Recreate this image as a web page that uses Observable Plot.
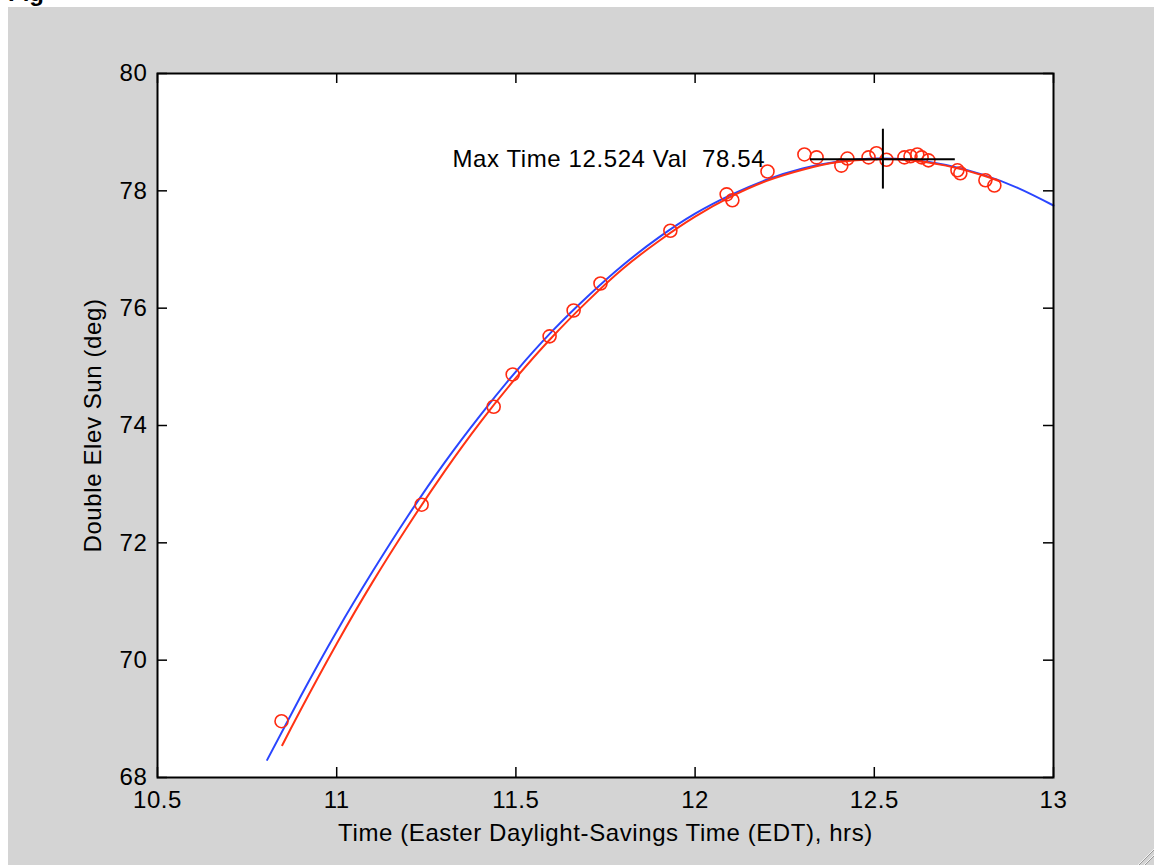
<!DOCTYPE html>
<html>
<head>
<meta charset="utf-8">
<script src="https://cdn.jsdelivr.net/npm/d3@7"></script>
<script src="https://cdn.jsdelivr.net/npm/@observablehq/plot@0.6"></script>
<style>
  html, body { margin: 0; padding: 0; background: #ffffff; width: 1154px; height: 865px; overflow: hidden; }
  #panel { position: absolute; left: 8px; top: 7px; right: 0; bottom: 0; background: #d4d4d4; }
  #head { position: absolute; left: 8px; top: -19px; font: bold 24px "Liberation Sans", Arial, sans-serif; line-height: 1; color: #000; }
  #chart { position: absolute; left: 0; top: 0; }
  #chart svg text { letter-spacing: 0.6px; }
  #grip { position: absolute; right: 0; bottom: 0; }
</style>
</head>
<body>
<div id="head">Fig</div>
<div id="panel"></div>
<div id="chart"></div>
<svg id="grip" width="24" height="24"><path d="M24,8L8,24M24,14L14,24" stroke="#f4f4f4" stroke-width="1"/><path d="M24,9L9,24M24,15L15,24" stroke="#999" stroke-width="1"/></svg>
<script>
// Observed data (red circles)
const obsTime = [10.846, 11.237, 11.438, 11.491, 11.594, 11.661, 11.736, 11.931, 12.088, 12.104,
                 12.202, 12.305, 12.339, 12.408, 12.425, 12.484, 12.506, 12.534, 12.584, 12.601,
                 12.620, 12.632, 12.651, 12.732, 12.740, 12.810, 12.835];
const obsElev = [68.96, 72.65, 74.32, 74.87, 75.52, 75.96, 76.42, 77.32, 77.94, 77.84,
                 78.33, 78.62, 78.57, 78.43, 78.55, 78.57, 78.64, 78.53, 78.57, 78.59,
                 78.62, 78.57, 78.52, 78.35, 78.30, 78.18, 78.09];

// Red fitted curve
const fitTime = [10.848, 10.9, 11.0, 11.1, 11.2, 11.3, 11.4, 11.5, 11.6, 11.7, 11.8, 11.9,
                 12.0, 12.1, 12.2, 12.3, 12.4, 12.5, 12.6, 12.7, 12.8, 12.85];
const fitElev = [68.55, 69.16, 70.28, 71.33, 72.30, 73.21, 74.05, 74.81, 75.50, 76.12, 76.68, 77.15,
                 77.56, 77.90, 78.17, 78.36, 78.49, 78.54, 78.52, 78.43, 78.27, 78.16];

// Blue reference curve
const refTime = [10.806, 10.9, 11.0, 11.1, 11.2, 11.3, 11.4, 11.5, 11.6, 11.7, 11.8, 11.9,
                 12.0, 12.1, 12.2, 12.3, 12.4, 12.5, 12.6, 12.7, 12.8, 12.9, 13.0];
const refElev = [68.30, 69.39, 70.49, 71.51, 72.47, 73.36, 74.17, 74.92, 75.60, 76.20, 76.74, 77.21,
                 77.61, 77.93, 78.19, 78.38, 78.50, 78.55, 78.53, 78.44, 78.28, 78.05, 77.75];

// Maximum marker
const maxTime = 12.524;
const maxVal = 78.54;
const crossHalfT = 0.202;   // half width of horizontal bar (hrs)
const crossHalfV = 0.51;    // half height of vertical bar (deg)
const noteTime = 11.323;    // where the annotation starts

// Axes
const xTicks = [10.5, 11, 11.5, 12, 12.5, 13];
const yTicks = [68, 70, 72, 74, 76, 78, 80];
const xLabel = "Time (Easter Daylight-Savings Time (EDT), hrs)";
const yLabel = "Double Elev Sun (deg)";

const obs = obsTime.map((t, i) => ({t, v: obsElev[i]}));
const fit = fitTime.map((t, i) => ({t, v: fitElev[i]}));
const ref = refTime.map((t, i) => ({t, v: refElev[i]}));

const W = 1154, H = 865, mL = 157, mR = 101, mT = 73, mB = 88;
const fw = W - mL - mR, fh = H - mT - mB, tick = 10;
const font = "'Liberation Sans', Arial, Helvetica, sans-serif";
const fs = 24;

const chart = Plot.plot({
  width: W, height: H,
  marginLeft: mL, marginRight: mR, marginTop: mT, marginBottom: mB,
  style: {background: "transparent", fontFamily: font, fontSize: fs + "px", color: "#000", overflow: "visible"},
  x: {domain: [10.5, 13]},
  y: {domain: [68, 80]},
  marks: [
    Plot.frame({fill: "white", stroke: "none"}),
    Plot.line(ref, {x: "t", y: "v", stroke: "#2a45ff", strokeWidth: 2, curve: "natural"}),
    Plot.line(fit, {x: "t", y: "v", stroke: "#ff3314", strokeWidth: 2, curve: "natural"}),
    Plot.dot(obs, {x: "t", y: "v", r: 6.5, stroke: "#ff2a10", strokeWidth: 1.6, fill: "none"}),
    Plot.ruleX([maxTime], {y1: maxVal - crossHalfV, y2: maxVal + crossHalfV, stroke: "#000", strokeWidth: 2}),
    Plot.ruleY([maxVal], {x1: maxTime - crossHalfT, x2: maxTime + crossHalfT, stroke: "#000", strokeWidth: 2}),
    Plot.text([`Max Time ${maxTime} Val  ${maxVal}`], {x: noteTime, y: maxVal, text: d => d, textAnchor: "start",
      lineAnchor: "middle", fontSize: fs, fill: "#000", fontFamily: font}),
    // inward ticks on all four sides
    Plot.ruleX(xTicks, {insetTop: fh - tick, stroke: "#000", strokeWidth: 1.5}),
    Plot.ruleX(xTicks, {insetBottom: fh - tick, stroke: "#000", strokeWidth: 1.5}),
    Plot.ruleY(yTicks, {insetRight: fw - tick, stroke: "#000", strokeWidth: 1.5}),
    Plot.ruleY(yTicks, {insetLeft: fw - tick, stroke: "#000", strokeWidth: 1.5}),
    Plot.axisX({ticks: xTicks, tickSize: 0, tickPadding: 13, tickFormat: d => String(d), label: null, fontSize: fs}),
    Plot.axisY({ticks: yTicks, tickSize: 0, tickPadding: 10, tickFormat: d => String(d), label: null, fontSize: fs}),
    Plot.text([xLabel], {frameAnchor: "bottom", dy: 56, text: d => d, textAnchor: "middle", lineAnchor: "middle",
      fontSize: fs, fill: "#000"}),
    Plot.text([yLabel], {frameAnchor: "left", dx: -64, rotate: -90, text: d => d, textAnchor: "middle", lineAnchor: "middle",
      fontSize: fs, fill: "#000"}),
    Plot.frame({stroke: "#000", strokeWidth: 2})
  ]
});
d3.select(chart).selectAll("text").style("white-space", "pre");
document.getElementById("chart").appendChild(chart);
</script>
</body>
</html>
